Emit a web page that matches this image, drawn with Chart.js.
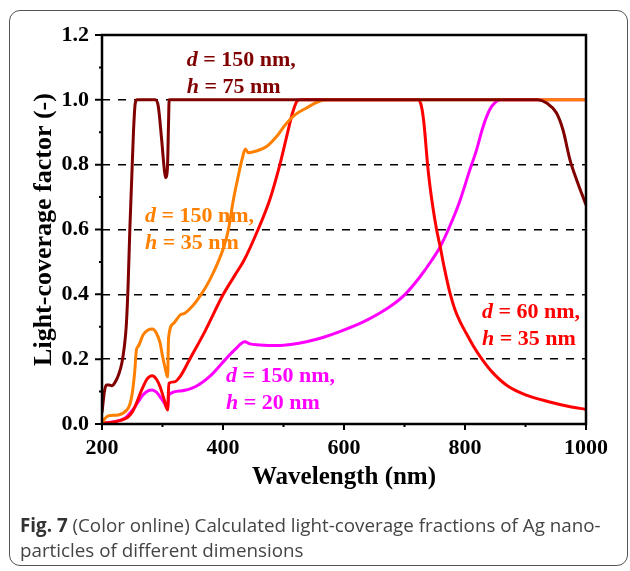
<!DOCTYPE html>
<html>
<head>
<meta charset="utf-8">
<script src="https://cdn.jsdelivr.net/npm/chart.js@4.4.1/dist/chart.umd.min.js"></script>
<style>
    html, body { margin: 0; padding: 0; background: #fff; }
    #wrap { position: relative; width: 630px; height: 571px; overflow: hidden; }
    #chartBox { position: absolute; left: 0; top: 0; width: 630px; height: 571px; }
    #frame {
        position: absolute; left: 9px; top: 10px; width: 617px; height: 554px;
        border: 1.5px solid #555; border-radius: 11px; pointer-events: none;
    }
    #caption {
        position: absolute; left: 20px; top: 513px;
        font-family: 'Open Sans', sans-serif; font-size: 18.8px; line-height: 25px;
        color: #444; white-space: nowrap;
    }
    #caption b { color: #333; }
</style>
</head>
<body>
<div id="wrap">
    <div id="chartBox"><canvas id="coverageChart"></canvas></div>
    <div id="frame"></div>
    <div id="caption"><b>Fig. 7</b> (Color online) Calculated light-coverage fractions of Ag nano-<br>particles of different dimensions</div>
</div>
<script>
// --- DATA ---
const xTicks = [200, 400, 600, 800, 1000];
const yTicks = [0.0, 0.2, 0.4, 0.6, 0.8, 1.0, 1.2];

// d = 150 nm, h = 75 nm
const wlD150H75 = [200, 204, 207, 212, 216, 222, 228, 233, 237, 240, 243, 246, 249, 252, 255, 258,
    288, 293, 298.6, 302.5, 305, 308, 310, 311, 920, 935, 951, 962, 973.5, 984.6, 1000];
const cfD150H75 = [0.035, 0.10, 0.12, 0.12, 0.118, 0.13, 0.155, 0.19, 0.24, 0.30, 0.42, 0.60, 0.75, 0.90, 0.99, 1.0,
    1.0, 0.98, 0.877, 0.794, 0.76, 0.784, 0.93, 1.0, 1.0, 0.99, 0.96, 0.907, 0.815, 0.753, 0.676];

// d = 150 nm, h = 35 nm
const wlD150H35 = [200, 204, 210, 227, 241, 246, 250, 254, 257, 260, 268, 276, 283, 290, 296, 300, 304, 308.5,
    310, 318, 329, 337, 350, 364, 378, 392, 402, 409, 417, 425, 432, 437, 442, 455, 472, 490, 505, 520, 538, 555, 570, 1000];
const cfD150H35 = [0.005, 0.015, 0.025, 0.028, 0.043, 0.06, 0.095, 0.16, 0.23, 0.24, 0.275, 0.29, 0.293, 0.28, 0.25, 0.21, 0.176, 0.145,
    0.265, 0.31, 0.336, 0.342, 0.365, 0.40, 0.444, 0.50, 0.55, 0.60, 0.69, 0.763, 0.82, 0.848, 0.837, 0.842, 0.856, 0.89, 0.928, 0.955, 0.975, 0.992, 1.0, 1.0];

// d = 60 nm, h = 35 nm
const wlD60H35 = [200, 215, 232, 242, 249, 256, 265.6, 275, 283, 290, 296, 302, 308.5,
    310.5, 320, 329, 345, 370, 400.5, 420, 435, 458, 477, 494, 505, 515, 522, 527,
    722, 728, 732, 739, 746, 753, 759, 766, 775, 783, 792, 802, 814, 828, 845, 870, 900, 940, 970, 1000];
const cfD60H35 = [0.003, 0.005, 0.012, 0.02, 0.034, 0.06, 0.105, 0.14, 0.149, 0.138, 0.115, 0.08, 0.043,
    0.126, 0.13, 0.146, 0.20, 0.285, 0.40, 0.46, 0.506, 0.60, 0.69, 0.80, 0.885, 0.96, 0.995, 1.0,
    1.0, 0.98, 0.93, 0.784, 0.68, 0.60, 0.547, 0.48, 0.405, 0.355, 0.315, 0.28, 0.24, 0.20, 0.16, 0.118, 0.09, 0.068, 0.055, 0.045];

// d = 150 nm, h = 20 nm
const wlD150H20 = [200, 210, 221, 238, 246, 254.5, 261, 268, 276, 283, 290, 296, 302, 308.5,
    310.5, 330, 354, 380, 403, 420, 436, 444, 460, 489, 515, 538, 565, 593, 632, 660, 682, 701,
    726, 745, 759, 772.5, 790, 808, 819, 830, 841, 850, 858, 1000];
const cfD150H20 = [0.0, 0.004, 0.007, 0.018, 0.033, 0.053, 0.072, 0.09, 0.102, 0.105, 0.098, 0.084, 0.068, 0.048,
    0.09, 0.102, 0.115, 0.15, 0.197, 0.23, 0.254, 0.247, 0.244, 0.242, 0.246, 0.254, 0.267, 0.285, 0.315, 0.343, 0.37, 0.40,
    0.455, 0.505, 0.547, 0.60, 0.68, 0.784, 0.845, 0.918, 0.97, 0.992, 1.0, 1.0];

const seriesNames = ['d150h75', 'd150h35', 'd60h35', 'd150h20'];
const seriesColors = ['#800000', '#ff8000', '#ff0000', '#ff00ff'];

// curve labels, anchored in data coordinates (wavelength, factor) = left/baseline
const curveLabels = [
    { lines: [['d', ' = 150 nm,'], ['h', ' = 75 nm']], at: [340, 1.103], color: '#800000' },
    { lines: [['d', ' = 150 nm,'], ['h', ' = 35 nm']], at: [271, 0.623], color: '#ff8000' },
    { lines: [['d', ' = 150 nm,'], ['h', ' = 20 nm']], at: [405, 0.130], color: '#ff00ff' },
    { lines: [['d', ' = 60 nm,'], ['h', ' = 35 nm']], at: [828, 0.327], color: '#ff0000' }
];

const toPoints = (xs, ys) => xs.map((x, i) => ({ x: x, y: ys[i] }));

const serif = "'Liberation Serif', 'Times New Roman', serif";

// box frame + outward tick marks
const frameTicks = {
    id: 'frameTicks',
    afterDraw(chart) {
        const { ctx, chartArea: a, scales } = chart;
        ctx.save();
        ctx.strokeStyle = '#000';
        ctx.lineWidth = 2.5;
        ctx.strokeRect(a.left, a.top, a.right - a.left, a.bottom - a.top);
        ctx.lineWidth = 2;
        ctx.beginPath();
        scales.x.ticks.forEach(t => {
            const px = scales.x.getPixelForValue(t.value);
            const len = xTicks.includes(t.value) ? 6 : 3;
            ctx.moveTo(px, a.bottom);
            ctx.lineTo(px, a.bottom + len);
        });
        scales.y.ticks.forEach(t => {
            const py = scales.y.getPixelForValue(t.value);
            const major = Math.round(t.value * 10) % 2 === 0;
            ctx.moveTo(a.left, py);
            ctx.lineTo(a.left - (major ? 7 : 3), py);
        });
        ctx.stroke();
        ctx.restore();
    }
};

// d = ..., h = ... labels next to each curve
const curveText = {
    id: 'curveText',
    afterDatasetsDraw(chart) {
        const { ctx, scales } = chart;
        ctx.save();
        ctx.textBaseline = 'alphabetic';
        curveLabels.forEach(lab => {
            const x0 = scales.x.getPixelForValue(lab.at[0]);
            let y = scales.y.getPixelForValue(lab.at[1]);
            ctx.fillStyle = lab.color;
            lab.lines.forEach(parts => {
                let x = x0;
                ctx.font = 'italic bold 22px ' + serif;
                ctx.fillText(parts[0], x, y);
                x += ctx.measureText(parts[0]).width;
                ctx.font = 'bold 22px ' + serif;
                ctx.fillText(parts[1], x, y);
                y += 27;
            });
        });
        ctx.restore();
    }
};

document.addEventListener('DOMContentLoaded', () => {
    const datasets = [
        [wlD150H75, cfD150H75],
        [wlD150H35, cfD150H35],
        [wlD60H35, cfD60H35],
        [wlD150H20, cfD150H20]
    ].map((s, i) => ({
        label: seriesNames[i],
        data: toPoints(s[0], s[1]),
        borderColor: seriesColors[i],
        borderWidth: 3,
        pointRadius: 0,
        cubicInterpolationMode: 'monotone',
        fill: false
    }));

    const ctx = document.getElementById('coverageChart').getContext('2d');
    new Chart(ctx, {
        type: 'line',
        data: { datasets },
        plugins: [frameTicks, curveText],
        options: {
            responsive: true,
            maintainAspectRatio: false,
            animation: false,
            events: [],
            layout: { padding: { left: 0, top: 35, right: 44, bottom: 67 } },
            plugins: { legend: { display: false }, tooltip: { enabled: false } },
            scales: {
                x: {
                    type: 'linear',
                    min: 200,
                    max: 1000,
                    afterFit: s => { s.height = 80; },
                    ticks: {
                        stepSize: 100,
                        padding: 11,
                        color: '#000',
                        font: { family: serif, size: 22, weight: 'bold' },
                        callback: v => xTicks.includes(v) ? String(v) : ''
                    },
                    grid: { display: false, drawTicks: false },
                    border: { display: false },
                    title: {
                        display: true,
                        text: 'Wavelength (nm)',
                        color: '#000',
                        font: { family: serif, size: 25, weight: 'bold' },
                        padding: { top: 0, bottom: 11 }
                    }
                },
                y: {
                    min: 0,
                    max: 1.2,
                    afterFit: s => { s.width = 102; },
                    ticks: {
                        stepSize: 0.1,
                        padding: 13,
                        color: '#000',
                        font: { family: serif, size: 22, weight: 'bold' },
                        callback: v => {
                            const k = Math.round(v * 10);
                            return k % 2 === 0 ? (k / 10).toFixed(1) : '';
                        }
                    },
                    grid: {
                        drawTicks: false,
                        lineWidth: 1.5,
                        color: c => {
                            const k = Math.round(c.tick.value * 10);
                            return (k % 2 === 0 && k > 0 && k < 12) ? '#000' : 'rgba(0,0,0,0)';
                        }
                    },
                    border: { display: false, dash: [8, 8] },
                    title: {
                        display: true,
                        text: 'Light-coverage factor (-)',
                        color: '#000',
                        font: { family: serif, size: 26, weight: 'bold' },
                        padding: { top: 29, bottom: 0 }
                    }
                }
            }
        }
    });
});
</script>
</body>
</html>
